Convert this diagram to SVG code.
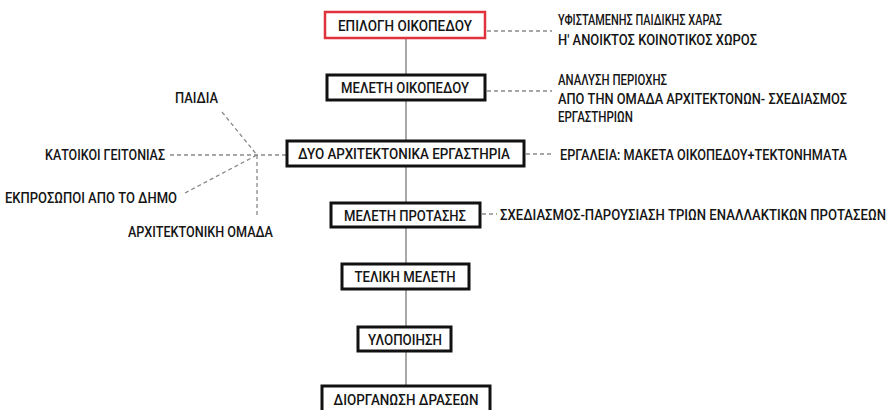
<svg xmlns="http://www.w3.org/2000/svg" width="892" height="410" viewBox="0 0 892 410">
<style>
text{font-family:Roboto,"Liberation Sans",sans-serif;font-size:15px;font-weight:500;fill:#151515}
.box{fill:#fff;stroke:#111;stroke-width:3}
.red{fill:#fff;stroke:#e0323c;stroke-width:2.5}
.spine{stroke:#7a7a7a;stroke-width:1.3;fill:none}
.dash{stroke:#8a8a8a;stroke-width:1.3;stroke-dasharray:4 3;fill:none}
.c{text-anchor:middle}
</style>
<g id="connectors">
<line class="spine" x1="406" y1="38" x2="406" y2="386"/>
<line class="dash" x1="487" y1="31" x2="552" y2="31"/>
<line class="dash" x1="487" y1="91" x2="552" y2="91"/>
<line class="dash" x1="526" y1="154" x2="552" y2="154"/>
<line class="dash" x1="482" y1="214" x2="497" y2="214"/>
<line class="dash" x1="170" y1="155" x2="286" y2="155"/>
<line class="dash" x1="222" y1="112" x2="257" y2="155"/>
<line class="dash" x1="185" y1="193" x2="257" y2="155"/>
<line class="dash" x1="257" y1="155" x2="257" y2="216"/>
</g>
<g id="n1"><rect class="red" x="325" y="12" width="160" height="26"/><text class="c" transform="translate(405,30.5) scale(0.86,1)" textLength="155.8" lengthAdjust="spacingAndGlyphs">ΕΠΙΛΟΓΗ ΟΙΚΟΠΕΔΟΥ</text></g>
<g id="n2"><rect class="box" x="327" y="75" width="158" height="25"/><text class="c" transform="translate(405,93) scale(0.86,1)" textLength="148.8" lengthAdjust="spacingAndGlyphs">ΜΕΛΕΤΗ ΟΙΚΟΠΕΔΟΥ</text></g>
<g id="n3"><rect class="box" x="287" y="141" width="237" height="25"/><text class="c" transform="translate(404,159) scale(0.86,1)" textLength="246.5" lengthAdjust="spacingAndGlyphs">ΔΥΟ ΑΡΧΙΤΕΚΤΟΝΙΚΑ ΕΡΓΑΣΤΗΡΙΑ</text></g>
<g id="n4"><rect class="box" x="331" y="203" width="149" height="24"/><text class="c" transform="translate(405,220.5) scale(0.86,1)" textLength="141.9" lengthAdjust="spacingAndGlyphs">ΜΕΛΕΤΗ ΠΡΟΤΑΣΗΣ</text></g>
<g id="n5"><rect class="box" x="342" y="264" width="127" height="25"/><text class="c" transform="translate(405,282) scale(0.86,1)" textLength="117.4" lengthAdjust="spacingAndGlyphs">ΤΕΛΙΚΗ ΜΕΛΕΤΗ</text></g>
<g id="n6"><rect class="box" x="358" y="327" width="93" height="24"/><text class="c" transform="translate(405,344.5) scale(0.86,1)" textLength="86" lengthAdjust="spacingAndGlyphs">ΥΛΟΠΟΙΗΣΗ</text></g>
<g id="n7"><rect class="box" x="322" y="386" width="168" height="26"/><text class="c" transform="translate(406,404.5) scale(0.86,1)" textLength="168.6" lengthAdjust="spacingAndGlyphs">ΔΙΟΡΓΑΝΩΣΗ ΔΡΑΣΕΩΝ</text></g>
<g id="notes-right">
<text transform="translate(558,25) scale(0.86,1)" textLength="190.7" lengthAdjust="spacingAndGlyphs">ΥΦΙΣΤΑΜΕΝΗΣ ΠΑΙΔΙΚΗΣ ΧΑΡΑΣ</text>
<text transform="translate(558,45) scale(0.86,1)" textLength="231.4" lengthAdjust="spacingAndGlyphs">Η' ΑΝΟΙΚΤΟΣ ΚΟΙΝΟΤΙΚΟΣ ΧΩΡΟΣ</text>
<text transform="translate(558,85) scale(0.86,1)" textLength="126.7" lengthAdjust="spacingAndGlyphs">ΑΝΑΛΥΣΗ ΠΕΡΙΟΧΗΣ</text>
<text transform="translate(558,104) scale(0.86,1)" textLength="336" lengthAdjust="spacingAndGlyphs">ΑΠΟ ΤΗΝ ΟΜΑΔΑ ΑΡΧΙΤΕΚΤΟΝΩΝ- ΣΧΕΔΙΑΣΜΟΣ</text>
<text transform="translate(558,122) scale(0.86,1)" textLength="87.2" lengthAdjust="spacingAndGlyphs">ΕΡΓΑΣΤΗΡΙΩΝ</text>
<text transform="translate(560,160) scale(0.86,1)" textLength="333.7" lengthAdjust="spacingAndGlyphs">ΕΡΓΑΛΕΙΑ: ΜΑΚΕΤΑ ΟΙΚΟΠΕΔΟΥ+ΤΕΚΤΟΝΗΜΑΤΑ</text>
<text transform="translate(500,219.5) scale(0.86,1)" textLength="448.8" lengthAdjust="spacingAndGlyphs">ΣΧΕΔΙΑΣΜΟΣ-ΠΑΡΟΥΣΙΑΣΗ ΤΡΙΩΝ ΕΝΑΛΛΑΚΤΙΚΩΝ ΠΡΟΤΑΣΕΩΝ</text>
</g>
<g id="notes-left">
<text transform="translate(175,103) scale(0.86,1)" textLength="50" lengthAdjust="spacingAndGlyphs">ΠΑΙΔΙΑ</text>
<text transform="translate(45,160) scale(0.86,1)" textLength="139.5" lengthAdjust="spacingAndGlyphs">ΚΑΤΟΙΚΟΙ ΓΕΙΤΟΝΙΑΣ</text>
<text transform="translate(5,203) scale(0.86,1)" textLength="200" lengthAdjust="spacingAndGlyphs">ΕΚΠΡΟΣΩΠΟΙ ΑΠΟ ΤΟ ΔΗΜΟ</text>
<text transform="translate(128,237) scale(0.86,1)" textLength="168.6" lengthAdjust="spacingAndGlyphs">ΑΡΧΙΤΕΚΤΟΝΙΚΗ ΟΜΑΔΑ</text>
</g>
</svg>
